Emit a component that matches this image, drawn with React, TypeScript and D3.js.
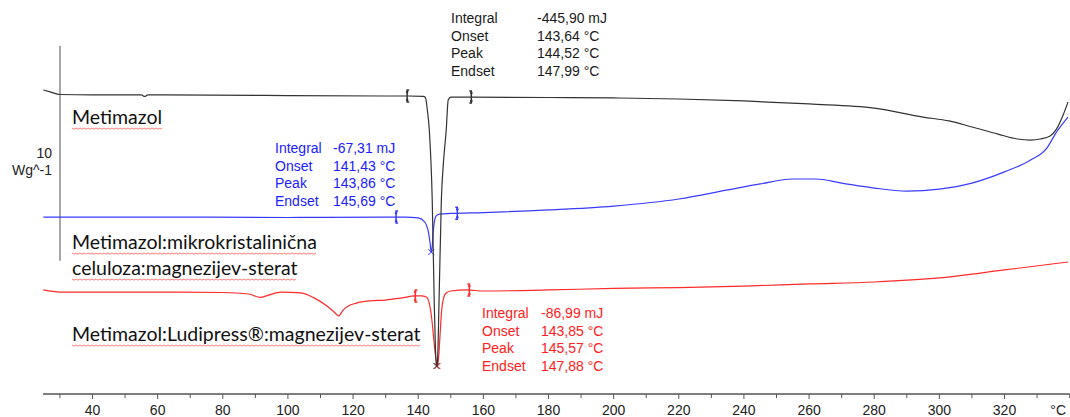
import { useEffect, useRef } from 'react';
import * as d3 from 'd3';

// temperature (°C) / heat flow (W/g, curves shifted as in the plot)
const metimazol: [number, number][] = [
  [24.9, 14.14], [27, 14.05], [30, 13.93], [40, 13.91], [55, 13.91], [56, 13.84], [57, 13.91],
  [100, 13.88], [130, 13.86], [137, 13.86], [141.5, 13.84], [142.2, 13.79], [142.8, 13.21],
  [143.4, 12.28], [144.3, 9.02], [144.9, 4.37], [145.3, 2.05], [145.6, 1.3], [145.9, 1.49],
  [146.4, 4.37], [147.1, 9.02], [147.8, 10.88], [148.6, 12.28], [149.2, 13.67], [150, 13.81],
  [156, 13.81], [180, 13.79], [200, 13.77], [220, 13.72], [240, 13.63], [260, 13.49],
  [280, 13.3], [295, 12.88], [303, 12.7], [310, 12.42], [318, 12.09], [324, 11.86],
  [328, 11.81], [331, 11.86], [334, 12.0], [336, 12.33], [338, 12.98], [339.5, 13.58],
];
const mcc: [number, number][] = [
  [24.9, 8.23], [60, 8.23], [100, 8.21], [130, 8.23], [136, 8.23], [140, 8.19], [142, 8.0],
  [143, 7.63], [143.6, 7.07], [144, 6.6], [144.3, 6.88], [144.6, 7.53], [145, 8.05],
  [145.5, 8.28], [146.5, 8.37], [150, 8.4], [160, 8.44], [180, 8.56], [200, 8.74],
  [220, 9.07], [235, 9.49], [245, 9.77], [255, 10.0], [262, 10.0], [270, 9.81], [280, 9.58],
  [290, 9.44], [300, 9.53], [310, 9.81], [320, 10.33], [328, 10.88], [333, 11.44],
  [336, 12.19], [339.5, 12.88],
];
const ludipress: [number, number][] = [
  [24.9, 4.84], [30, 4.74], [40, 4.74], [60, 4.74], [80, 4.72], [88, 4.65], [91.5, 4.49],
  [94, 4.6], [98, 4.74], [104, 4.7], [108, 4.47], [112, 4.09], [114.5, 3.77], [115.5, 3.63],
  [117, 3.91], [118.5, 4.09], [121, 4.23], [125, 4.33], [130, 4.37], [135, 4.47], [139, 4.56],
  [141, 4.56], [142.5, 4.51], [143.5, 4.14], [144.2, 3.44], [144.8, 2.51], [145.4, 1.67],
  [145.9, 1.3], [146.3, 1.77], [146.7, 2.74], [147.2, 3.91], [147.8, 4.47], [148.6, 4.7],
  [150, 4.79], [155, 4.84], [160, 4.79], [180, 4.84], [200, 4.91], [220, 4.95], [240, 5.02],
  [260, 5.12], [280, 5.21], [300, 5.4], [320, 5.77], [339.5, 6.14],
];

// integration limits (°C) and plotted peak minimum
const limitsMet = [136.6, 156.3];
const limitsMcc = [133.2, 152.0];
const limitsLud = [139.1, 155.7];
const peakMet: [number, number] = [145.6, 1.3];
const peakMcc: [number, number] = [144.0, 6.6];
const peakLud: [number, number] = [145.9, 1.3];

const evalLabels = ['Integral', 'Onset', 'Peak', 'Endset'];
const evalMet = ['-445,90 mJ', '143,64 °C', '144,52 °C', '147,99 °C'];
const evalMcc = ['-67,31 mJ', '141,43 °C', '143,86 °C', '145,69 °C'];
const evalLud = ['-86,99 mJ', '143,85 °C', '145,57 °C', '147,88 °C'];

const majorTicks = [40, 60, 80, 100, 120, 140, 160, 180, 200, 220, 240, 260, 280, 300, 320];
const minorTicks = [30, 50, 70, 90, 110, 130, 150, 170, 190, 210, 230, 250, 270, 290, 310, 330, 340];

const W = 1070;
const H = 417;
const NUM_FONT = '"Liberation Sans", Arial, sans-serif';
const LBL_FONT = 'Lato, "Open Sans", sans-serif';

export default function App() {
  const svgRef = useRef<SVGSVGElement>(null);

  useEffect(() => {
    if (!svgRef.current) return;
    const svg = d3.select(svgRef.current);
    svg.selectAll('*').remove();

    const x = d3.scaleLinear().domain([24.8, 339.8]).range([43, 1069]);
    const y = d3.scaleLinear().domain([0, 10]).range([394, 179]);

    const line = d3.line<[number, number]>()
      .x(d => x(d[0]))
      .y(d => y(d[1]))
      .curve(d3.curveMonotoneX);

    // scale bar 10 W/g
    svg.append('line')
      .attr('x1', 60).attr('x2', 60)
      .attr('y1', y(16.2)).attr('y2', y(6.2))
      .attr('stroke', '#777').attr('stroke-width', 1.3);
    svg.append('text').attr('x', 52).attr('y', y(11.2) + 5)
      .attr('text-anchor', 'end').style('font', `14px ${NUM_FONT}`).attr('fill', '#222')
      .text('10');
    svg.append('text').attr('x', 52).attr('y', y(11.2) + 22)
      .attr('text-anchor', 'end').style('font', `14px ${NUM_FONT}`).attr('fill', '#222')
      .text('Wg^-1');

    // x axis
    const axisY = 394;
    svg.append('line').attr('x1', 43).attr('x2', x(340)).attr('y1', axisY).attr('y2', axisY)
      .attr('stroke', '#555').attr('stroke-width', 1.3);
    svg.selectAll('.mj').data(majorTicks).join('line')
      .attr('x1', d => x(d)).attr('x2', d => x(d))
      .attr('y1', axisY).attr('y2', axisY + 5).attr('stroke', '#555');
    svg.selectAll('.mn').data(minorTicks).join('line')
      .attr('x1', d => x(d)).attr('x2', d => x(d))
      .attr('y1', axisY).attr('y2', axisY + 4).attr('stroke', '#555');
    svg.selectAll('.tl').data(majorTicks).join('text')
      .attr('x', d => x(d)).attr('y', axisY + 21)
      .attr('text-anchor', 'middle').style('font', `14px ${NUM_FONT}`).attr('fill', '#222')
      .text(d => d);
    svg.append('text').attr('x', 1066).attr('y', axisY + 21)
      .attr('text-anchor', 'end').style('font', `14px ${NUM_FONT}`).attr('fill', '#222')
      .text('°C');

    const series = [
      { data: ludipress, color: '#ff2a2a', lim: limitsLud, peak: peakLud },
      { data: mcc, color: '#3a3aff', lim: limitsMcc, peak: peakMcc },
      { data: metimazol, color: '#333', lim: limitsMet, peak: peakMet },
    ];

    series.forEach(s => {
      svg.append('path').attr('d', line(s.data))
        .attr('fill', 'none').attr('stroke', s.color).attr('stroke-width', 1.2);

      const interp = (t: number) => {
        const i = d3.bisector((d: [number, number]) => d[0]).left(s.data, t);
        const a = s.data[Math.max(0, i - 1)], b = s.data[Math.min(s.data.length - 1, i)];
        const k = b[0] === a[0] ? 0 : (t - a[0]) / (b[0] - a[0]);
        return a[1] + (b[1] - a[1]) * k;
      };
      s.lim.forEach((t, j) => {
        const cx = x(t), cy = y(interp(t));
        const dir = j === 0 ? 1 : -1;
        svg.append('path')
          .attr('d', `M${cx + 2 * dir},${cy - 6} H${cx} V${cy + 6} H${cx + 2 * dir}`)
          .attr('fill', 'none').attr('stroke', s.color).attr('stroke-width', 1.5);
        svg.append('circle').attr('cx', cx).attr('cy', cy - 4).attr('r', 1.3).attr('fill', s.color);
        svg.append('circle').attr('cx', cx).attr('cy', cy + 4).attr('r', 1.3).attr('fill', s.color);
      });
      const px = x(s.peak[0]), py = y(s.peak[1]);
      svg.append('path').attr('d', `M${px - 3},${py - 3}L${px + 3},${py + 3}M${px - 3},${py + 3}L${px + 3},${py - 3}`)
        .attr('stroke', s.color).attr('stroke-width', 1);
    });

    // evaluation tables
    const tables = [
      { vals: evalMet, color: '#1a1a1a', lx: 451, vx: 537, y0: 23 },
      { vals: evalMcc, color: '#2020ff', lx: 275, vx: 333, y0: 153 },
      { vals: evalLud, color: '#ff2020', lx: 482, vx: 541, y0: 318 },
    ];
    tables.forEach(t => {
      evalLabels.forEach((lab, i) => {
        svg.append('text').attr('x', t.lx).attr('y', t.y0 + i * 17.5)
          .style('font', `14px ${NUM_FONT}`).attr('fill', t.color).text(lab);
        svg.append('text').attr('x', t.vx).attr('y', t.y0 + i * 17.5)
          .style('font', `14px ${NUM_FONT}`).attr('fill', t.color).text(t.vals[i]);
      });
    });

    // curve names with spell-check squiggle
    const names = [
      { text: 'Metimazol', y: 124 },
      { text: 'Metimazol:mikrokristalinična', y: 249 },
      { text: 'celuloza:magnezijev-sterat', y: 275 },
      { text: 'Metimazol:Ludipress®:magnezijev-sterat', y: 341 },
    ];
    names.forEach(n => {
      const t = svg.append('text').attr('x', 72).attr('y', n.y)
        .style('font', `19.5px ${LBL_FONT}`).attr('fill', '#111').text(n.text);
      const w = (t.node() as SVGTextElement).getComputedTextLength();
      const pts: string[] = [];
      for (let i = 0; i * 2 <= w; i++) pts.push(`${72 + i * 2},${n.y + 4 + (i % 2 ? 1.2 : 0)}`);
      svg.append('polyline').attr('points', pts.join(' '))
        .attr('fill', 'none').attr('stroke', '#ff3030').attr('stroke-width', 0.8).attr('opacity', 0.8);
    });
  }, []);

  return (
    <svg ref={svgRef} width={W} height={H}
      style={{ position: 'absolute', left: 0, top: 0, background: '#fff', display: 'block' }} />
  );
}
